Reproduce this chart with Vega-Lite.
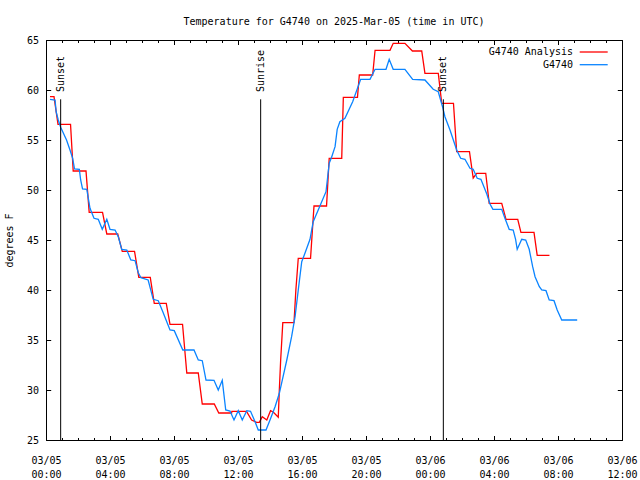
{
"$schema": "https://vega.github.io/schema/vega-lite/v6.json",
"width": 576, "height": 400,
"autosize": {"type": "none"},
"padding": {"left": 46, "top": 40, "right": 18, "bottom": 40},
"background": "white",
"title": {"text": "Temperature for G4740 on 2025-Mar-05 (time in UTC)", "font": "DejaVu Sans Mono", "fontSize": 10, "fontWeight": "normal", "color": "black", "anchor": "middle", "frame": "group", "offset": 8},
"config": {"view": {"stroke": "black", "strokeWidth": 1}, "axis": {"grid": false, "domain": false, "tickColor": "black", "labelColor": "black", "labelFont": "DejaVu Sans Mono", "labelFontSize": 10, "titleFont": "DejaVu Sans Mono", "titleFontSize": 10, "titleFontWeight": "normal", "titleColor": "black"}},
"datasets": {
"temps": [
{"time":"2025-03-05T00:15:00Z","temp":59.33,"series":"G4740 Analysis"},
{"time":"2025-03-05T00:30:00Z","temp":59.33,"series":"G4740 Analysis"},
{"time":"2025-03-05T00:45:00Z","temp":56.57,"series":"G4740 Analysis"},
{"time":"2025-03-05T01:32:00Z","temp":56.57,"series":"G4740 Analysis"},
{"time":"2025-03-05T01:42:00Z","temp":51.9,"series":"G4740 Analysis"},
{"time":"2025-03-05T02:30:00Z","temp":51.9,"series":"G4740 Analysis"},
{"time":"2025-03-05T02:42:00Z","temp":47.77,"series":"G4740 Analysis"},
{"time":"2025-03-05T03:32:00Z","temp":47.77,"series":"G4740 Analysis"},
{"time":"2025-03-05T03:48:00Z","temp":45.6,"series":"G4740 Analysis"},
{"time":"2025-03-05T04:29:00Z","temp":45.6,"series":"G4740 Analysis"},
{"time":"2025-03-05T04:46:00Z","temp":43.87,"series":"G4740 Analysis"},
{"time":"2025-03-05T05:32:00Z","temp":43.87,"series":"G4740 Analysis"},
{"time":"2025-03-05T05:48:00Z","temp":41.27,"series":"G4740 Analysis"},
{"time":"2025-03-05T06:31:00Z","temp":41.27,"series":"G4740 Analysis"},
{"time":"2025-03-05T06:46:00Z","temp":38.67,"series":"G4740 Analysis"},
{"time":"2025-03-05T07:31:00Z","temp":38.67,"series":"G4740 Analysis"},
{"time":"2025-03-05T07:45:00Z","temp":36.57,"series":"G4740 Analysis"},
{"time":"2025-03-05T08:32:00Z","temp":36.57,"series":"G4740 Analysis"},
{"time":"2025-03-05T08:48:00Z","temp":31.7,"series":"G4740 Analysis"},
{"time":"2025-03-05T09:31:00Z","temp":31.7,"series":"G4740 Analysis"},
{"time":"2025-03-05T09:46:00Z","temp":28.6,"series":"G4740 Analysis"},
{"time":"2025-03-05T10:31:00Z","temp":28.6,"series":"G4740 Analysis"},
{"time":"2025-03-05T10:48:00Z","temp":27.7,"series":"G4740 Analysis"},
{"time":"2025-03-05T11:36:00Z","temp":27.7,"series":"G4740 Analysis"},
{"time":"2025-03-05T11:37:00Z","temp":27.87,"series":"G4740 Analysis"},
{"time":"2025-03-05T12:32:00Z","temp":27.87,"series":"G4740 Analysis"},
{"time":"2025-03-05T12:51:00Z","temp":27.0,"series":"G4740 Analysis"},
{"time":"2025-03-05T13:10:00Z","temp":26.77,"series":"G4740 Analysis"},
{"time":"2025-03-05T13:20:00Z","temp":26.77,"series":"G4740 Analysis"},
{"time":"2025-03-05T13:31:00Z","temp":27.33,"series":"G4740 Analysis"},
{"time":"2025-03-05T13:48:00Z","temp":27.0,"series":"G4740 Analysis"},
{"time":"2025-03-05T14:02:00Z","temp":27.93,"series":"G4740 Analysis"},
{"time":"2025-03-05T14:12:00Z","temp":27.8,"series":"G4740 Analysis"},
{"time":"2025-03-05T14:31:00Z","temp":27.27,"series":"G4740 Analysis"},
{"time":"2025-03-05T14:35:00Z","temp":30.0,"series":"G4740 Analysis"},
{"time":"2025-03-05T14:40:00Z","temp":33.0,"series":"G4740 Analysis"},
{"time":"2025-03-05T14:48:00Z","temp":36.73,"series":"G4740 Analysis"},
{"time":"2025-03-05T15:30:00Z","temp":36.73,"series":"G4740 Analysis"},
{"time":"2025-03-05T15:37:00Z","temp":40.0,"series":"G4740 Analysis"},
{"time":"2025-03-05T15:46:00Z","temp":43.17,"series":"G4740 Analysis"},
{"time":"2025-03-05T16:32:00Z","temp":43.17,"series":"G4740 Analysis"},
{"time":"2025-03-05T16:45:00Z","temp":48.4,"series":"G4740 Analysis"},
{"time":"2025-03-05T17:32:00Z","temp":48.4,"series":"G4740 Analysis"},
{"time":"2025-03-05T17:42:00Z","temp":53.17,"series":"G4740 Analysis"},
{"time":"2025-03-05T18:29:00Z","temp":53.17,"series":"G4740 Analysis"},
{"time":"2025-03-05T18:35:00Z","temp":59.27,"series":"G4740 Analysis"},
{"time":"2025-03-05T19:28:00Z","temp":59.27,"series":"G4740 Analysis"},
{"time":"2025-03-05T19:35:00Z","temp":61.5,"series":"G4740 Analysis"},
{"time":"2025-03-05T20:25:00Z","temp":61.5,"series":"G4740 Analysis"},
{"time":"2025-03-05T20:34:00Z","temp":63.97,"series":"G4740 Analysis"},
{"time":"2025-03-05T21:30:00Z","temp":63.97,"series":"G4740 Analysis"},
{"time":"2025-03-05T21:42:00Z","temp":64.67,"series":"G4740 Analysis"},
{"time":"2025-03-05T22:26:00Z","temp":64.67,"series":"G4740 Analysis"},
{"time":"2025-03-05T22:54:00Z","temp":63.9,"series":"G4740 Analysis"},
{"time":"2025-03-05T23:29:00Z","temp":63.9,"series":"G4740 Analysis"},
{"time":"2025-03-05T23:41:00Z","temp":61.67,"series":"G4740 Analysis"},
{"time":"2025-03-06T00:31:00Z","temp":61.67,"series":"G4740 Analysis"},
{"time":"2025-03-06T00:44:00Z","temp":58.67,"series":"G4740 Analysis"},
{"time":"2025-03-06T01:28:00Z","temp":58.67,"series":"G4740 Analysis"},
{"time":"2025-03-06T01:40:00Z","temp":53.83,"series":"G4740 Analysis"},
{"time":"2025-03-06T02:28:00Z","temp":53.83,"series":"G4740 Analysis"},
{"time":"2025-03-06T02:42:00Z","temp":51.2,"series":"G4740 Analysis"},
{"time":"2025-03-06T02:55:00Z","temp":51.67,"series":"G4740 Analysis"},
{"time":"2025-03-06T03:29:00Z","temp":51.67,"series":"G4740 Analysis"},
{"time":"2025-03-06T03:42:00Z","temp":48.67,"series":"G4740 Analysis"},
{"time":"2025-03-06T04:29:00Z","temp":48.67,"series":"G4740 Analysis"},
{"time":"2025-03-06T04:45:00Z","temp":47.07,"series":"G4740 Analysis"},
{"time":"2025-03-06T05:29:00Z","temp":47.07,"series":"G4740 Analysis"},
{"time":"2025-03-06T05:41:00Z","temp":45.77,"series":"G4740 Analysis"},
{"time":"2025-03-06T06:30:00Z","temp":45.77,"series":"G4740 Analysis"},
{"time":"2025-03-06T06:42:00Z","temp":43.47,"series":"G4740 Analysis"},
{"time":"2025-03-06T07:28:00Z","temp":43.47,"series":"G4740 Analysis"},
{"time":"2025-03-05T00:15:00Z","temp":59.07,"series":"G4740"},
{"time":"2025-03-05T00:34:00Z","temp":59.0,"series":"G4740"},
{"time":"2025-03-05T00:38:00Z","temp":57.83,"series":"G4740"},
{"time":"2025-03-05T00:46:00Z","temp":57.0,"series":"G4740"},
{"time":"2025-03-05T00:55:00Z","temp":56.27,"series":"G4740"},
{"time":"2025-03-05T01:17:00Z","temp":55.0,"series":"G4740"},
{"time":"2025-03-05T01:30:00Z","temp":54.0,"series":"G4740"},
{"time":"2025-03-05T01:40:00Z","temp":53.17,"series":"G4740"},
{"time":"2025-03-05T01:47:00Z","temp":52.1,"series":"G4740"},
{"time":"2025-03-05T02:05:00Z","temp":52.07,"series":"G4740"},
{"time":"2025-03-05T02:10:00Z","temp":51.0,"series":"G4740"},
{"time":"2025-03-05T02:17:00Z","temp":50.1,"series":"G4740"},
{"time":"2025-03-05T02:33:00Z","temp":50.07,"series":"G4740"},
{"time":"2025-03-05T02:45:00Z","temp":48.17,"series":"G4740"},
{"time":"2025-03-05T03:00:00Z","temp":47.17,"series":"G4740"},
{"time":"2025-03-05T03:16:00Z","temp":47.07,"series":"G4740"},
{"time":"2025-03-05T03:31:00Z","temp":46.07,"series":"G4740"},
{"time":"2025-03-05T03:48:00Z","temp":47.07,"series":"G4740"},
{"time":"2025-03-05T04:00:00Z","temp":46.07,"series":"G4740"},
{"time":"2025-03-05T04:19:00Z","temp":46.0,"series":"G4740"},
{"time":"2025-03-05T04:31:00Z","temp":45.33,"series":"G4740"},
{"time":"2025-03-05T04:44:00Z","temp":44.07,"series":"G4740"},
{"time":"2025-03-05T05:03:00Z","temp":44.0,"series":"G4740"},
{"time":"2025-03-05T05:18:00Z","temp":43.0,"series":"G4740"},
{"time":"2025-03-05T05:34:00Z","temp":42.93,"series":"G4740"},
{"time":"2025-03-05T05:46:00Z","temp":41.73,"series":"G4740"},
{"time":"2025-03-05T05:56:00Z","temp":41.23,"series":"G4740"},
{"time":"2025-03-05T06:23:00Z","temp":41.0,"series":"G4740"},
{"time":"2025-03-05T06:42:00Z","temp":39.07,"series":"G4740"},
{"time":"2025-03-05T07:01:00Z","temp":38.93,"series":"G4740"},
{"time":"2025-03-05T07:18:00Z","temp":37.83,"series":"G4740"},
{"time":"2025-03-05T07:45:00Z","temp":36.0,"series":"G4740"},
{"time":"2025-03-05T08:01:00Z","temp":35.93,"series":"G4740"},
{"time":"2025-03-05T08:33:00Z","temp":34.0,"series":"G4740"},
{"time":"2025-03-05T09:15:00Z","temp":34.0,"series":"G4740"},
{"time":"2025-03-05T09:31:00Z","temp":33.0,"series":"G4740"},
{"time":"2025-03-05T09:46:00Z","temp":32.93,"series":"G4740"},
{"time":"2025-03-05T10:00:00Z","temp":31.0,"series":"G4740"},
{"time":"2025-03-05T10:30:00Z","temp":30.97,"series":"G4740"},
{"time":"2025-03-05T10:46:00Z","temp":30.0,"series":"G4740"},
{"time":"2025-03-05T11:01:00Z","temp":30.97,"series":"G4740"},
{"time":"2025-03-05T11:14:00Z","temp":28.0,"series":"G4740"},
{"time":"2025-03-05T11:30:00Z","temp":27.9,"series":"G4740"},
{"time":"2025-03-05T11:45:00Z","temp":27.0,"series":"G4740"},
{"time":"2025-03-05T12:01:00Z","temp":27.93,"series":"G4740"},
{"time":"2025-03-05T12:16:00Z","temp":27.0,"series":"G4740"},
{"time":"2025-03-05T12:33:00Z","temp":27.93,"series":"G4740"},
{"time":"2025-03-05T12:47:00Z","temp":27.87,"series":"G4740"},
{"time":"2025-03-05T13:04:00Z","temp":26.83,"series":"G4740"},
{"time":"2025-03-05T13:16:00Z","temp":26.0,"series":"G4740"},
{"time":"2025-03-05T13:45:00Z","temp":26.0,"series":"G4740"},
{"time":"2025-03-05T14:00:00Z","temp":27.0,"series":"G4740"},
{"time":"2025-03-05T14:19:00Z","temp":28.33,"series":"G4740"},
{"time":"2025-03-05T14:35:00Z","temp":29.67,"series":"G4740"},
{"time":"2025-03-05T15:03:00Z","temp":33.0,"series":"G4740"},
{"time":"2025-03-05T15:21:00Z","temp":35.33,"series":"G4740"},
{"time":"2025-03-05T15:34:00Z","temp":37.33,"series":"G4740"},
{"time":"2025-03-05T15:46:00Z","temp":40.0,"series":"G4740"},
{"time":"2025-03-05T15:59:00Z","temp":42.83,"series":"G4740"},
{"time":"2025-03-05T16:11:00Z","temp":43.67,"series":"G4740"},
{"time":"2025-03-05T16:30:00Z","temp":45.07,"series":"G4740"},
{"time":"2025-03-05T16:42:00Z","temp":46.83,"series":"G4740"},
{"time":"2025-03-05T17:10:00Z","temp":48.57,"series":"G4740"},
{"time":"2025-03-05T17:30:00Z","temp":49.83,"series":"G4740"},
{"time":"2025-03-05T17:42:00Z","temp":52.67,"series":"G4740"},
{"time":"2025-03-05T17:51:00Z","temp":53.27,"series":"G4740"},
{"time":"2025-03-05T18:04:00Z","temp":54.33,"series":"G4740"},
{"time":"2025-03-05T18:12:00Z","temp":56.07,"series":"G4740"},
{"time":"2025-03-05T18:22:00Z","temp":56.83,"series":"G4740"},
{"time":"2025-03-05T18:41:00Z","temp":57.17,"series":"G4740"},
{"time":"2025-03-05T19:10:00Z","temp":58.83,"series":"G4740"},
{"time":"2025-03-05T19:40:00Z","temp":61.07,"series":"G4740"},
{"time":"2025-03-05T20:15:00Z","temp":61.07,"series":"G4740"},
{"time":"2025-03-05T20:34:00Z","temp":62.07,"series":"G4740"},
{"time":"2025-03-05T21:15:00Z","temp":62.07,"series":"G4740"},
{"time":"2025-03-05T21:27:00Z","temp":63.07,"series":"G4740"},
{"time":"2025-03-05T21:42:00Z","temp":62.07,"series":"G4740"},
{"time":"2025-03-05T22:26:00Z","temp":62.07,"series":"G4740"},
{"time":"2025-03-05T22:55:00Z","temp":61.07,"series":"G4740"},
{"time":"2025-03-05T23:41:00Z","temp":61.0,"series":"G4740"},
{"time":"2025-03-06T00:12:00Z","temp":60.07,"series":"G4740"},
{"time":"2025-03-06T00:31:00Z","temp":59.83,"series":"G4740"},
{"time":"2025-03-06T00:47:00Z","temp":58.33,"series":"G4740"},
{"time":"2025-03-06T00:56:00Z","temp":57.33,"series":"G4740"},
{"time":"2025-03-06T01:15:00Z","temp":56.0,"series":"G4740"},
{"time":"2025-03-06T01:40:00Z","temp":54.0,"series":"G4740"},
{"time":"2025-03-06T01:55:00Z","temp":53.17,"series":"G4740"},
{"time":"2025-03-06T02:11:00Z","temp":53.07,"series":"G4740"},
{"time":"2025-03-06T02:30:00Z","temp":52.17,"series":"G4740"},
{"time":"2025-03-06T02:42:00Z","temp":52.07,"series":"G4740"},
{"time":"2025-03-06T02:57:00Z","temp":51.17,"series":"G4740"},
{"time":"2025-03-06T03:11:00Z","temp":51.07,"series":"G4740"},
{"time":"2025-03-06T03:33:00Z","temp":49.6,"series":"G4740"},
{"time":"2025-03-06T03:45:00Z","temp":48.6,"series":"G4740"},
{"time":"2025-03-06T03:56:00Z","temp":48.07,"series":"G4740"},
{"time":"2025-03-06T04:29:00Z","temp":48.07,"series":"G4740"},
{"time":"2025-03-06T04:41:00Z","temp":47.17,"series":"G4740"},
{"time":"2025-03-06T04:57:00Z","temp":46.07,"series":"G4740"},
{"time":"2025-03-06T05:12:00Z","temp":46.0,"series":"G4740"},
{"time":"2025-03-06T05:21:00Z","temp":45.07,"series":"G4740"},
{"time":"2025-03-06T05:27:00Z","temp":44.07,"series":"G4740"},
{"time":"2025-03-06T05:44:00Z","temp":45.07,"series":"G4740"},
{"time":"2025-03-06T05:59:00Z","temp":45.0,"series":"G4740"},
{"time":"2025-03-06T06:12:00Z","temp":44.07,"series":"G4740"},
{"time":"2025-03-06T06:25:00Z","temp":42.33,"series":"G4740"},
{"time":"2025-03-06T06:34:00Z","temp":41.33,"series":"G4740"},
{"time":"2025-03-06T06:50:00Z","temp":40.33,"series":"G4740"},
{"time":"2025-03-06T06:59:00Z","temp":40.0,"series":"G4740"},
{"time":"2025-03-06T07:15:00Z","temp":39.93,"series":"G4740"},
{"time":"2025-03-06T07:27:00Z","temp":39.0,"series":"G4740"},
{"time":"2025-03-06T07:45:00Z","temp":38.93,"series":"G4740"},
{"time":"2025-03-06T07:57:00Z","temp":38.0,"series":"G4740"},
{"time":"2025-03-06T08:14:00Z","temp":37.0,"series":"G4740"},
{"time":"2025-03-06T09:12:00Z","temp":37.0,"series":"G4740"}
],
"events": [
{"time":"2025-03-05T00:55:00Z","label":"Sunset"},
{"time":"2025-03-05T13:25:00Z","label":"Sunrise"},
{"time":"2025-03-06T00:50:00Z","label":"Sunset"}
]
},
"resolve": {"axis": {"x": "independent", "y": "independent"}},
"layer": [
{
"data": {"name": "temps"},
"mark": {"type": "line", "strokeWidth": 1.3},
"encoding": {
"x": {"field": "time", "type": "temporal",
 "scale": {"type": "utc", "nice": false, "domain": ["2025-03-05T00:00:00Z", "2025-03-06T12:00:00Z"]},
 "axis": {"orient": "bottom", "title": null, "ticks": false, "values": [1741132800000, 1741147200000, 1741161600000, 1741176000000, 1741190400000, 1741204800000, 1741219200000, 1741233600000, 1741248000000, 1741262400000], "labelExpr": "[utcFormat(datum.value, '%m/%d'), utcFormat(datum.value, '%H:%M')]", "labelPadding": 15, "labelLineHeight": 14.5, "labelBaseline": "top", "labelAlign": "center", "labelOverlap": false, "labelFlush": false}},
"y": {"field": "temp", "type": "quantitative",
 "scale": {"domain": [25, 65], "nice": false, "zero": false},
 "axis": {"orient": "left", "ticks": false, "values": [25, 30, 35, 40, 45, 50, 55, 60, 65], "labelPadding": 7.5, "title": "degrees F", "titleX": -32, "titleY": 200, "titleAngle": 270, "titleAlign": "center", "titleBaseline": "bottom"}},
"color": {"field": "series", "type": "nominal",
 "scale": {"domain": ["G4740 Analysis", "G4740"], "range": ["#ff0000", "#0a84ff"]},
 "legend": {"orient": "none", "legendX": 542.7, "legendY": 7, "title": null, "symbolType": "M-4,0H4", "symbolSize": 49, "symbolStrokeWidth": 1.3, "labelAlign": "right", "labelOffset": -25.7, "labelFont": "DejaVu Sans Mono", "labelFontSize": 10, "labelColor": "black", "rowPadding": 2.7, "padding": 0}}
}
},
{
"data": {"name": "events"},
"mark": {"type": "rule", "color": "black", "strokeWidth": 1},
"encoding": {
"x": {"field": "time", "type": "temporal", "axis": {"orient": "bottom", "labels": false, "title": null, "tickSize": -4.5, "values": [1741132800000, 1741147200000, 1741161600000, 1741176000000, 1741190400000, 1741204800000, 1741219200000, 1741233600000, 1741248000000, 1741262400000]}},
"y": {"datum": 59.07, "type": "quantitative", "axis": {"orient": "left", "labels": false, "title": null, "tickSize": -4.7, "values": [25, 30, 35, 40, 45, 50, 55, 60, 65]}},
"y2": {"datum": 25}
}
},
{
"data": {"name": "events"},
"mark": {"type": "text", "angle": 270, "align": "left", "baseline": "middle", "font": "DejaVu Sans Mono", "fontSize": 10, "color": "black"},
"encoding": {
"x": {"field": "time", "type": "temporal", "axis": {"orient": "top", "labels": false, "title": null, "tickSize": -4.5, "values": [1741132800000, 1741147200000, 1741161600000, 1741176000000, 1741190400000, 1741204800000, 1741219200000, 1741233600000, 1741248000000, 1741262400000]}},
"y": {"datum": 59.8, "type": "quantitative", "axis": {"orient": "right", "labels": false, "title": null, "tickSize": -4.7, "values": [25, 30, 35, 40, 45, 50, 55, 60, 65]}},
"text": {"field": "label"}
}
},
{
"data": {"name": "events"},
"mark": {"type": "rule", "opacity": 0},
"encoding": {
"x": {"field": "time", "type": "temporal", "axis": {"orient": "bottom", "labels": false, "title": null, "tickSize": -2.5, "values": [1741132800000, 1741136400000, 1741140000000, 1741143600000, 1741147200000, 1741150800000, 1741154400000, 1741158000000, 1741161600000, 1741165200000, 1741168800000, 1741172400000, 1741176000000, 1741179600000, 1741183200000, 1741186800000, 1741190400000, 1741194000000, 1741197600000, 1741201200000, 1741204800000, 1741208400000, 1741212000000, 1741215600000, 1741219200000, 1741222800000, 1741226400000, 1741230000000, 1741233600000, 1741237200000, 1741240800000, 1741244400000, 1741248000000, 1741251600000, 1741255200000, 1741258800000, 1741262400000]}}
}
},
{
"data": {"name": "events"},
"mark": {"type": "rule", "opacity": 0},
"encoding": {
"x": {"field": "time", "type": "temporal", "axis": {"orient": "top", "labels": false, "title": null, "tickSize": -2.5, "values": [1741132800000, 1741136400000, 1741140000000, 1741143600000, 1741147200000, 1741150800000, 1741154400000, 1741158000000, 1741161600000, 1741165200000, 1741168800000, 1741172400000, 1741176000000, 1741179600000, 1741183200000, 1741186800000, 1741190400000, 1741194000000, 1741197600000, 1741201200000, 1741204800000, 1741208400000, 1741212000000, 1741215600000, 1741219200000, 1741222800000, 1741226400000, 1741230000000, 1741233600000, 1741237200000, 1741240800000, 1741244400000, 1741248000000, 1741251600000, 1741255200000, 1741258800000, 1741262400000]}}
}
}
]
}
